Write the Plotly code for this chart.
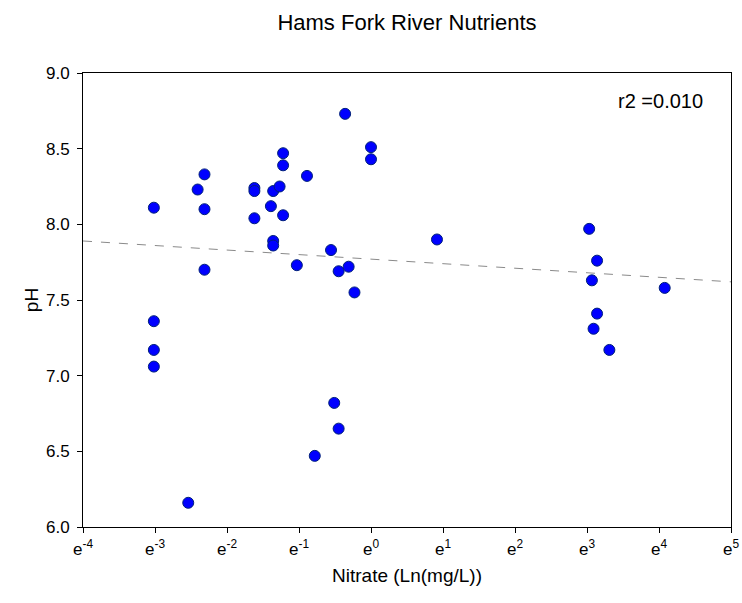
import plotly.graph_objects as go
import numpy as np

# Nitrate (mg/L) and pH
nitrate = [0.049, 0.049, 0.049, 0.049,
           0.079,
           0.090,
           0.099, 0.099, 0.099,
           0.198, 0.198, 0.198,
           0.249, 0.257, 0.281, 0.257, 0.257,
           0.295, 0.295, 0.295,
           0.357,
           0.411,
           0.458,
           0.574,
           0.600,
           0.638, 0.638,
           0.698,
           0.733,
           0.795,
           1.00, 1.00,
           2.50,
           20.7, 23.1, 21.5, 23.1, 22.0, 27.4,
           59.1]
ph = [8.11, 7.36, 7.17, 7.06,
      6.16,
      8.23,
      8.33, 8.10, 7.70,
      8.24, 8.22, 8.04,
      8.12, 8.22, 8.25, 7.89, 7.86,
      8.47, 8.39, 8.06,
      7.73,
      8.32,
      6.47,
      7.83,
      6.82,
      6.65, 7.69,
      8.73,
      7.72,
      7.55,
      8.51, 8.43,
      7.90,
      7.97, 7.76, 7.63, 7.41, 7.31, 7.17,
      7.58]

# Regression (pH vs ln(nitrate))
fit_intercept = 7.77
fit_slope = -0.030
r2_text = "r2 =0.010"

tick_powers = [-4, -3, -2, -1, 0, 1, 2, 3, 4, 5]
tick_vals = [float(np.exp(k)) for k in tick_powers]
tick_text = [f"e<sup>{k}</sup>" for k in tick_powers]

fit_ln = np.array([tick_powers[0], tick_powers[-1]], dtype=float)
fit_x = np.exp(fit_ln)
fit_y = fit_intercept + fit_slope * fit_ln

fig = go.Figure()
fig.add_trace(go.Scatter(
    x=fit_x, y=fit_y, mode="lines",
    line=dict(color="#8a8a8a", width=1, dash="dash"),
    showlegend=False, hoverinfo="skip"))
fig.add_trace(go.Scatter(
    x=nitrate, y=ph, mode="markers",
    marker=dict(color="#0000ff", size=11, line=dict(color="#00207a", width=1)),
    showlegend=False))

font_family = "Liberation Sans, Arial, sans-serif"
fig.update_layout(
    width=742, height=603,
    margin=dict(l=83, r=11, t=73, b=76),
    paper_bgcolor="white", plot_bgcolor="white",
    font=dict(family=font_family, color="black", size=17),
    title=dict(text="Hams Fork River Nutrients", x=0.5, xref="paper",
               y=1 - 22 / 603, yanchor="middle",
               font=dict(size=22, family=font_family, color="black")),
    xaxis=dict(
        type="log", automargin=False,
        range=[tick_powers[0] / np.log(10), tick_powers[-1] / np.log(10)],
        tickmode="array", tickvals=tick_vals, ticktext=tick_text,
        ticks="outside", ticklen=5, tickcolor="black",
        ticklabelstandoff=2,
        showline=True, linecolor="black", linewidth=1, mirror=True,
        showgrid=False, zeroline=False,
        tickfont=dict(size=17),
        title=dict(text="Nitrate (Ln(mg/L))", font=dict(size=19), standoff=10)),
    yaxis=dict(
        automargin=False,
        range=[6.0, 9.0], dtick=0.5, tick0=6.0, tickformat=".1f",
        ticks="outside", ticklen=5, tickcolor="black",
        ticklabelstandoff=4,
        showline=True, linecolor="black", linewidth=1, mirror=True,
        showgrid=False, zeroline=False,
        tickfont=dict(size=17),
        title=dict(text="pH", font=dict(size=19), standoff=2)),
    annotations=[dict(text=r2_text, xref="paper", yref="paper",
                      x=(705 - 83) / (731 - 83), y=(527 - 101) / (527 - 73),
                      xanchor="right", yanchor="middle", showarrow=False,
                      font=dict(size=20, family=font_family, color="black"))],
)

fig.write_html("out.html")
